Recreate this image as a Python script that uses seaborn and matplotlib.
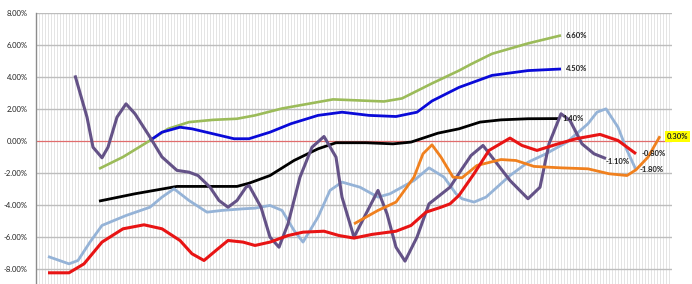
import matplotlib
matplotlib.use("Agg")
import matplotlib.pyplot as plt
import seaborn as sns
import pandas as pd

# ---- data (x = category index, y = percent) ----
green_x = [21, 29, 38, 44, 51, 59, 67, 73, 82, 99, 116, 122, 132, 141, 145, 152, 164, 175]
green_y = [-1.74, -1.0, 0.03, 0.76, 1.18, 1.32, 1.39, 1.6, 2.03, 2.6, 2.47, 2.66, 3.6,
           4.4, 4.8, 5.45, 6.1, 6.6]

blue_x = [38, 42, 48, 52, 59, 66, 71, 78, 85, 94, 102, 111, 120, 127, 132, 141, 152, 164, 175]
blue_y = [0.03, 0.55, 0.86, 0.76, 0.45, 0.14, 0.14, 0.55, 1.08, 1.6, 1.8, 1.6, 1.53, 1.8,
          2.5, 3.35, 4.1, 4.4, 4.5]

black_x = [21, 33, 47, 60, 67, 71, 78, 86, 94, 100, 110, 119, 125, 134, 141, 148, 155, 164, 174]
black_y = [-3.76, -3.3, -2.84, -2.84, -2.84, -2.64, -2.16, -1.22, -0.49, -0.11, -0.11,
           -0.18, -0.07, 0.49, 0.76, 1.18, 1.32, 1.39, 1.4]

purple_x = [13, 17, 19, 22, 24, 27, 30, 33, 38, 42, 47, 51, 54, 58, 61, 64, 67, 70, 71,
            75, 78, 81, 84, 88, 92, 96, 100, 102, 106, 110, 114, 117, 120, 123, 127, 131,
            138, 142, 145, 149, 152, 158, 164, 168, 171, 175, 178, 182, 186, 190]
purple_y = [4.1, 1.49, -0.39, -1.05, -0.39, 1.49, 2.32, 1.7, 0.24, -1.0, -1.84, -1.95,
            -2.16, -2.89, -3.72, -4.14, -3.72, -2.89, -2.78, -4.14, -6.01, -6.64, -5.18,
            -2.26, -0.39, 0.28, -1.01, -3.51, -6.01, -4.55, -3.09, -4.55, -6.64, -7.51,
            -6.01, -3.93, -2.89, -1.74, -0.91, -0.28, -1.01, -2.47, -3.61, -2.89, -0.18,
            1.7, 1.28, -0.18, -0.8, -1.1]

lblue_x = [4, 11, 14, 18, 22, 30, 38, 42, 46, 51, 57, 62, 69, 73, 78, 82, 86, 89, 94, 98,
           102, 108, 114, 118, 126, 131, 136, 140, 142, 146, 150, 158, 164, 170, 177, 184,
           187, 190, 194, 197, 200]
lblue_y = [-7.22, -7.68, -7.47, -6.32, -5.28, -4.66, -4.14, -3.51, -2.99, -3.72, -4.45,
           -4.34, -4.24, -4.2, -4.03, -4.34, -5.59, -6.32, -4.76, -3.09, -2.57, -2.89,
           -3.51, -3.3, -2.47, -1.68, -2.26, -3.3, -3.61, -3.82, -3.51, -2.16, -1.33, -0.8,
           -0.07, 1.08, 1.8, 2.01, 0.86, -0.59, -1.8]

red_x = [4, 11, 16, 22, 29, 36, 42, 48, 52, 56, 60, 64, 69, 73, 78, 84, 89, 96, 101, 106,
         112, 120, 125, 130, 135, 138, 141, 146, 151, 158, 162, 167, 174, 180, 188, 194, 200]
red_y = [-8.24, -8.24, -7.68, -6.32, -5.49, -5.24, -5.49, -6.22, -7.05, -7.47, -6.84,
         -6.22, -6.32, -6.53, -6.32, -5.91, -5.7, -5.64, -5.91, -6.07, -5.84, -5.64, -5.28,
         -4.45, -4.14, -3.93, -3.4, -2.05, -0.59, 0.18, -0.28, -0.59, -0.18, 0.14, 0.41,
         0.03, -0.8]

orange_x = [106, 114, 120, 126, 129, 132, 135, 139, 142, 147, 155, 160, 166, 175, 184,
            191, 197, 200, 204, 208]
orange_y = [-5.18, -4.34, -3.82, -2.26, -0.8, -0.24, -1.01, -2.26, -2.3, -1.53, -1.16,
            -1.22, -1.59, -1.68, -1.74, -2.05, -2.16, -1.8, -1.01, 0.3]

end_labels = ["6.60%", "4.50%", "1.40%", "-1.10%", "-0.80%", "-1.80%", "0.30%"]
yticks = [8, 6, 4, 2, 0, -2, -4, -6, -8]
ytick_labels = ["8.00%", "6.00%", "4.00%", "2.00%", "0.00%", "-2.00%", "-4.00%", "-6.00%", "-8.00%"]
n_categories = 212

sns.set_style("white")
plt.rcParams['font.family'] = ['Lato', 'DejaVu Sans']

fig = plt.figure(figsize=(6.92, 2.84), dpi=100)
ax = fig.add_axes([36 / 692, 0.0, 636 / 692, 1 - 13 / 284])

# vertical minor gridlines
for i in range(n_categories + 1):
    ax.axvline(i, color="#DCDCDC", lw=0.55, zorder=0)
# horizontal gridlines
for t in yticks:
    if t != 0:
        ax.axhline(t, color="#BDBDBD", lw=1.0, zorder=0.5)
ax.axhline(0, color="#E06C6C", lw=0.9, zorder=0.6)

series = [
    ("green", green_x, green_y, "#9BBB59", 1.9),
    ("blue", blue_x, blue_y, "#0A0AD8", 2.0),
    ("black", black_x, black_y, "#000000", 2.0),
    ("lblue", lblue_x, lblue_y, "#95B3D7", 2.0),
    ("purple", purple_x, purple_y, "#645287", 2.2),
    ("orange", orange_x, orange_y, "#F0801E", 2.0),
    ("red", red_x, red_y, "#E81414", 2.2),
]
for name, xs, ys, col, lw in series:
    df = pd.DataFrame({"x": xs, "y": ys})
    sns.lineplot(data=df, x="x", y="y", ax=ax, color=col, lw=lw, sort=False,
                 estimator=None, solid_joinstyle="round", solid_capstyle="butt", zorder=3)

# end labels
label_specs = [
    (green_x, green_y, end_labels[0], (5, 0), None),
    (blue_x, blue_y, end_labels[1], (5, 0), None),
    (black_x, black_y, end_labels[2], (5, 0), None),
    (purple_x, purple_y, end_labels[3], (0, -3), None),
    (red_x, red_y, end_labels[4], (6, 0), None),
    (lblue_x, lblue_y, end_labels[5], (4, 0), None),
    (orange_x, orange_y, end_labels[6], (7, 0), "#FFFF00"),
]
for xs, ys, txt, off, bg in label_specs:
    kw = {}
    if bg:
        kw["bbox"] = dict(boxstyle="square,pad=0.25", fc=bg, ec="none")
    ax.annotate(txt, (xs[-1], ys[-1]), xytext=off, textcoords="offset pixels",
                fontsize=5.5, fontweight="bold", color="#222222", va="center",
                ha="left", annotation_clip=False, zorder=5, **kw)

ax.set_xlim(0, n_categories)
ax.set_ylim(-8.94, 8)
ax.set_yticks(yticks)
ax.set_yticklabels(ytick_labels, fontsize=5.5, color="#222222")
ax.set_xticks([])
ax.tick_params(axis="y", length=0, pad=6)
ax.set_xlabel("")
ax.set_ylabel("")
for s in ["top", "right", "bottom"]:
    ax.spines[s].set_visible(False)
ax.spines["left"].set_color("#8C8C8C")
ax.spines["left"].set_linewidth(1.0)

fig.savefig("out.png", dpi=100)
